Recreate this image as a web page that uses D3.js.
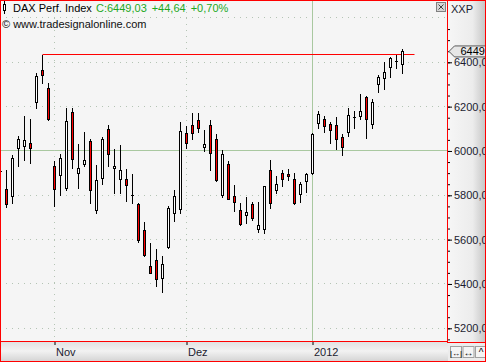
<!DOCTYPE html>
<html lang="de">
<head>
  <meta charset="utf-8" />
  <title>DAX Perf. Index</title>
  <script src="https://d3js.org/d3.v7.min.js"></script>
  <style>
    body { margin: 0; padding: 0; background: #ffffff; }
    #chart { width: 486px; height: 362px; }
    svg text { font-family: "Liberation Sans", Arial, sans-serif; font-size: 11px; }
  </style>
</head>
<body>
<div id="chart"></div>
<script>
// ---- data ----
const dates = [
  "2011-10-19","2011-10-20","2011-10-21","2011-10-24","2011-10-25","2011-10-26","2011-10-27","2011-10-28","2011-10-31",
  "2011-11-01","2011-11-02","2011-11-03","2011-11-04","2011-11-07","2011-11-08","2011-11-09","2011-11-10","2011-11-11",
  "2011-11-14","2011-11-15","2011-11-16","2011-11-17","2011-11-18","2011-11-21","2011-11-22","2011-11-23","2011-11-24",
  "2011-11-25","2011-11-28","2011-11-29","2011-11-30",
  "2011-12-01","2011-12-02","2011-12-05","2011-12-06","2011-12-07","2011-12-08","2011-12-09","2011-12-12","2011-12-13",
  "2011-12-14","2011-12-15","2011-12-16","2011-12-19","2011-12-20","2011-12-21","2011-12-22","2011-12-23","2011-12-27",
  "2011-12-28","2011-12-29","2011-12-30",
  "2012-01-02","2012-01-03","2012-01-04","2012-01-05","2012-01-06","2012-01-09","2012-01-10","2012-01-11","2012-01-12",
  "2012-01-13","2012-01-16","2012-01-17","2012-01-18","2012-01-19","2012-01-20","2012-01-23"
];
const openVals = [5908,5829,5797,6011,6023,6038,6223,6367,6284,5934,
  5891,5834,6175,5902,5945,6044,5730,5879,6097,5920,
  5870,5875,5799,5761,5643,5480,5506,5425,5568,5720,
  5738,6079,6117,6140,6018,6117,6052,5799,5943,5797,
  5735,5711,5761,5647,5647,5915,5821,5902,5897,5875,
  5802,5864,5897,6125,6143,6120,6117,6061,6086,6148,
  6158,6243,6120,6302,6329,6379,6407,6390];
const highVals = [5915,5912,5980,6067,6158,6144,6352,6435,6306,5955,
  5988,6193,6193,6030,6084,6052,5935,6064,6117,6011,
  6026,5920,5897,5765,5680,5584,5556,5526,5753,5826,
  6129,6112,6170,6170,6094,6140,6076,6006,5955,5847,
  5765,5794,5771,5771,5844,5961,5885,5912,5920,5900,
  5859,5902,6079,6180,6158,6132,6152,6075,6193,6182,
  6258,6249,6235,6344,6402,6423,6435,6462];
const lowVals = [5900,5745,5764,5932,5961,5945,6195,6306,6140,5753,
  5803,5826,5923,5832,5930,5764,5718,5849,5930,5809,
  5809,5773,5764,5591,5527,5448,5393,5362,5564,5682,
  5718,6014,6052,6084,5999,5912,5864,5794,5782,5727,
  5668,5677,5688,5636,5632,5743,5811,5841,5871,5763,
  5768,5814,5895,6105,6086,6036,6008,5984,6067,6102,
  6144,6059,6102,6268,6279,6334,6375,6352];
const closeVals = [5906,5761,5970,6052,6049,6015,6340,6345,6143,5829,
  5967,6135,5965,5925,5961,5825,5867,6056,5984,5930,
  5912,5847,5797,5600,5529,5450,5420,5488,5743,5797,
  6088,6034,6079,6106,6030,5991,5867,5985,5784,5768,
  5670,5725,5697,5665,5841,5765,5849,5875,5886,5765,
  5849,5897,6075,6165,6112,6094,6056,6015,6162,6150,
  6180,6143,6220,6334,6356,6420,6404.39,6449.03];

const monthTickDates  = ["2011-11-01", "2011-12-01", "2012-01-02"];
const monthTickLabels = ["Nov", "Dez", "2012"];
const yTickValues  = [5200, 5400, 5600, 5800, 6000, 6200, 6400];
const yGridValues  = [5200, 5400, 5600, 5800, 6200, 6400, 6600];
const yMinorValues = d3.range(5150, 6600, 50);
const lineLevel = 6435;   // horizontal line from the Oct 28 high
const lastPrice = 6449.03;

// ---- layout ----
const W = 486, H = 362;
const plotRight = 447.5, plotBottom = 341.5;

const svg = d3.select("#chart").append("svg")
  .attr("width", W).attr("height", H);

const defs = svg.append("defs");
const gAxisBg = defs.append("linearGradient").attr("id", "axisBg")
  .attr("x1", "0").attr("x2", "1").attr("y1", "0").attr("y2", "0");
gAxisBg.append("stop").attr("offset", "0%").attr("stop-color", "#f6f6f6");
gAxisBg.append("stop").attr("offset", "65%").attr("stop-color", "#ececec");
gAxisBg.append("stop").attr("offset", "100%").attr("stop-color", "#c4c4c4");
const gDateBg = defs.append("linearGradient").attr("id", "dateBg")
  .attr("x1", "0").attr("x2", "0").attr("y1", "0").attr("y2", "1");
gDateBg.append("stop").attr("offset", "0%").attr("stop-color", "#e2e2e2");
gDateBg.append("stop").attr("offset", "45%").attr("stop-color", "#f2f2f2");
gDateBg.append("stop").attr("offset", "100%").attr("stop-color", "#d2d2d2");
defs.append("clipPath").attr("id", "plotClip")
  .append("rect").attr("x", 0).attr("y", 0).attr("width", plotRight).attr("height", plotBottom);
defs.append("clipPath").attr("id", "axisClip")
  .append("rect").attr("x", 448).attr("y", 0).attr("width", 37).attr("height", 343);

// scales
const x = d3.scalePoint().domain(dates).range([0.5, 402.5]);
const y = d3.scaleLinear().domain([5200, 6400]).range([328.3, 62.3]);
const snap = v => Math.round(v - 0.5) + 0.5;

// background
svg.append("rect").attr("width", W).attr("height", H).attr("fill", "#f5f5f5");

const plot = svg.append("g").attr("clip-path", "url(#plotClip)");

// horizontal grid
plot.selectAll(".hgrid").data(yGridValues).enter().append("line")
  .attr("x1", 0).attr("x2", plotRight)
  .attr("y1", d => snap(y(d))).attr("y2", d => snap(y(d)))
  .attr("stroke", "#b4c4b4").attr("stroke-dasharray", "1,5");
plot.append("line")
  .attr("x1", 0).attr("x2", plotRight)
  .attr("y1", snap(y(6000))).attr("y2", snap(y(6000)))
  .attr("stroke", "#a9c8a0");

// vertical grid
monthTickDates.forEach((d, i) => {
  const line = plot.append("line")
    .attr("x1", x(d)).attr("x2", x(d)).attr("y1", 0).attr("y2", plotBottom);
  if (i === 2) line.attr("stroke", "#a9c8a0");
  else line.attr("stroke", "#b4c4b4").attr("stroke-dasharray", "1,5");
});

// horizontal line at the Oct 28 high
plot.append("line")
  .attr("x1", x(dates[7])).attr("x2", x(dates[dates.length - 1]) + 12)
  .attr("y1", snap(y(lineLevel))).attr("y2", snap(y(lineLevel)))
  .attr("stroke", "#ff0000");

// candles
const candles = dates.map((d, i) => ({
  date: d, o: openVals[i], h: highVals[i], l: lowVals[i], c: closeVals[i]
}));
const cg = plot.selectAll(".candle").data(candles).enter().append("g").attr("class", "candle");
cg.append("line")
  .attr("x1", d => x(d.date)).attr("x2", d => x(d.date))
  .attr("y1", d => Math.round(y(d.h))).attr("y2", d => Math.round(y(d.l)) + 1)
  .attr("stroke", "#000");
cg.each(function(d) {
  const g = d3.select(this);
  const cx = x(d.date);
  const yt = y(Math.max(d.o, d.c)), yb = y(Math.min(d.o, d.c));
  if (yb - yt < 1.5) {
    g.append("line")
      .attr("x1", cx - 1.5).attr("x2", cx + 1.5)
      .attr("y1", snap(y(d.c))).attr("y2", snap(y(d.c)))
      .attr("stroke", "#000");
  } else {
    const top = Math.round(yt) + 0.5;
    g.append("rect")
      .attr("x", cx - 1).attr("width", 2)
      .attr("y", top).attr("height", Math.max(1, Math.round(yb - yt)))
      .attr("fill", d.c < d.o ? "#ff0000" : "#ffffff")
      .attr("stroke", "#000");
  }
});

// header
const hdr = svg.append("g");
hdr.append("line").attr("x1", 4.5).attr("x2", 4.5).attr("y1", 1).attr("y2", 14).attr("stroke", "#000");
hdr.append("rect").attr("x", 3.5).attr("y", 4.5).attr("width", 2).attr("height", 6)
  .attr("fill", "#fff").attr("stroke", "#000");
hdr.append("text").attr("x", 13).attr("y", 12).attr("fill", "#000").text("DAX Perf. Index");
[["C:6449,03", 96], ["+44,64", 151.7], ["+0,70%", 190.7]].forEach(([t, px]) => {
  hdr.append("text").attr("x", px).attr("y", 12).attr("fill", "#1ea81e").text(t);
});
hdr.append("text").attr("x", 2).attr("y", 28).attr("fill", "#101010").text("\u00a9 www.tradesignalonline.com");

// close box
svg.append("rect").attr("x", 436.5).attr("y", 2.5).attr("width", 9).attr("height", 9)
  .attr("fill", "#d6d6d6").attr("stroke", "#808080");
svg.append("path").attr("d", "M438.5,4.5L443.5,9.5M443.5,4.5L438.5,9.5")
  .attr("stroke", "#404040").attr("fill", "none");

// price axis panel
svg.append("rect").attr("x", 448).attr("y", 0).attr("width", 38).attr("height", 343)
  .attr("fill", "url(#axisBg)");
const axisG = svg.append("g").attr("clip-path", "url(#axisClip)");
axisG.append("g")
  .attr("transform", "translate(448,0)")
  .call(d3.axisRight(y).tickValues(yMinorValues).tickSize(2).tickFormat(""))
  .call(g => g.select(".domain").remove())
  .call(g => g.selectAll("line").attr("stroke", "#000"));
axisG.append("g")
  .attr("transform", "translate(448,0)")
  .call(d3.axisRight(y).tickValues(yTickValues).tickSize(4).tickPadding(2)
    .tickFormat(v => d3.format(".2f")(v).replace(".", ",")))
  .call(g => g.select(".domain").remove())
  .call(g => g.selectAll("line").attr("stroke", "#000"))
  .call(g => g.selectAll("text").attr("fill", "#1c1c30")
    .style("font-family", "'Liberation Sans', Arial, sans-serif").style("font-size", "11px"));
axisG.append("text").attr("x", 451).attr("y", 13).attr("fill", "#1c1c30").text("XXP");

// last price tag
const py = y(lastPrice);
axisG.append("path")
  .attr("d", `M449,${py}L454.5,${py - 5.5}H486V${py + 5.5}H454.5Z`)
  .attr("fill", "#e6e6e6").attr("stroke", "#5a5a5a");
axisG.append("text").attr("x", 460.5).attr("y", py + 4).attr("fill", "#000")
  .text(Math.floor(lastPrice));

// date bar
svg.append("rect").attr("x", 0).attr("y", 342).attr("width", 448).attr("height", 20)
  .attr("fill", "url(#dateBg)");
svg.append("rect").attr("x", 448).attr("y", 343).attr("width", 38).attr("height", 19)
  .attr("fill", "#ececec");
const dateAxis = svg.append("g")
  .attr("transform", "translate(0,342)")
  .call(d3.axisBottom(x).tickValues(monthTickDates).tickSize(3)
    .tickFormat(d => monthTickLabels[monthTickDates.indexOf(d)]))
  .call(g => g.select(".domain").remove())
  .call(g => g.selectAll("line").attr("stroke", "#000"));
dateAxis.selectAll("text")
  .attr("text-anchor", "start").attr("x", 1).attr("y", 14).attr("dy", null)
  .attr("fill", "#1c1c30")
  .style("font-family", "'Liberation Sans', Arial, sans-serif").style("font-size", "11px");

// buttons
const btns = ["|\u2194|", "\u2194", "^"];
btns.forEach((b, i) => {
  const bx = 450.5 + i * 12.5;
  svg.append("rect").attr("x", bx).attr("y", 346.5).attr("width", 11).attr("height", 11)
    .attr("fill", "#f4f4f4").attr("stroke", "#a0a0a0");
  svg.append("text").attr("x", bx + 5.5).attr("y", 355.5).attr("text-anchor", "middle")
    .style("font-size", i === 0 ? "8px" : "10px").attr("fill", "#000").text(b);
});

// frame
svg.append("rect").attr("x", 0.5).attr("y", 0.5).attr("width", W - 1).attr("height", H - 1)
  .attr("fill", "none").attr("stroke", "#ff0000");
svg.append("line").attr("x1", 447.5).attr("x2", 447.5).attr("y1", 0).attr("y2", 343)
  .attr("stroke", "#ff0000");
svg.append("line").attr("x1", 0).attr("x2", 448).attr("y1", plotBottom).attr("y2", plotBottom)
  .attr("stroke", "#ff0000");
svg.append("line").attr("x1", 448).attr("x2", 486).attr("y1", 342.5).attr("y2", 342.5)
  .attr("stroke", "#ff0000");
</script>
</body>
</html>
